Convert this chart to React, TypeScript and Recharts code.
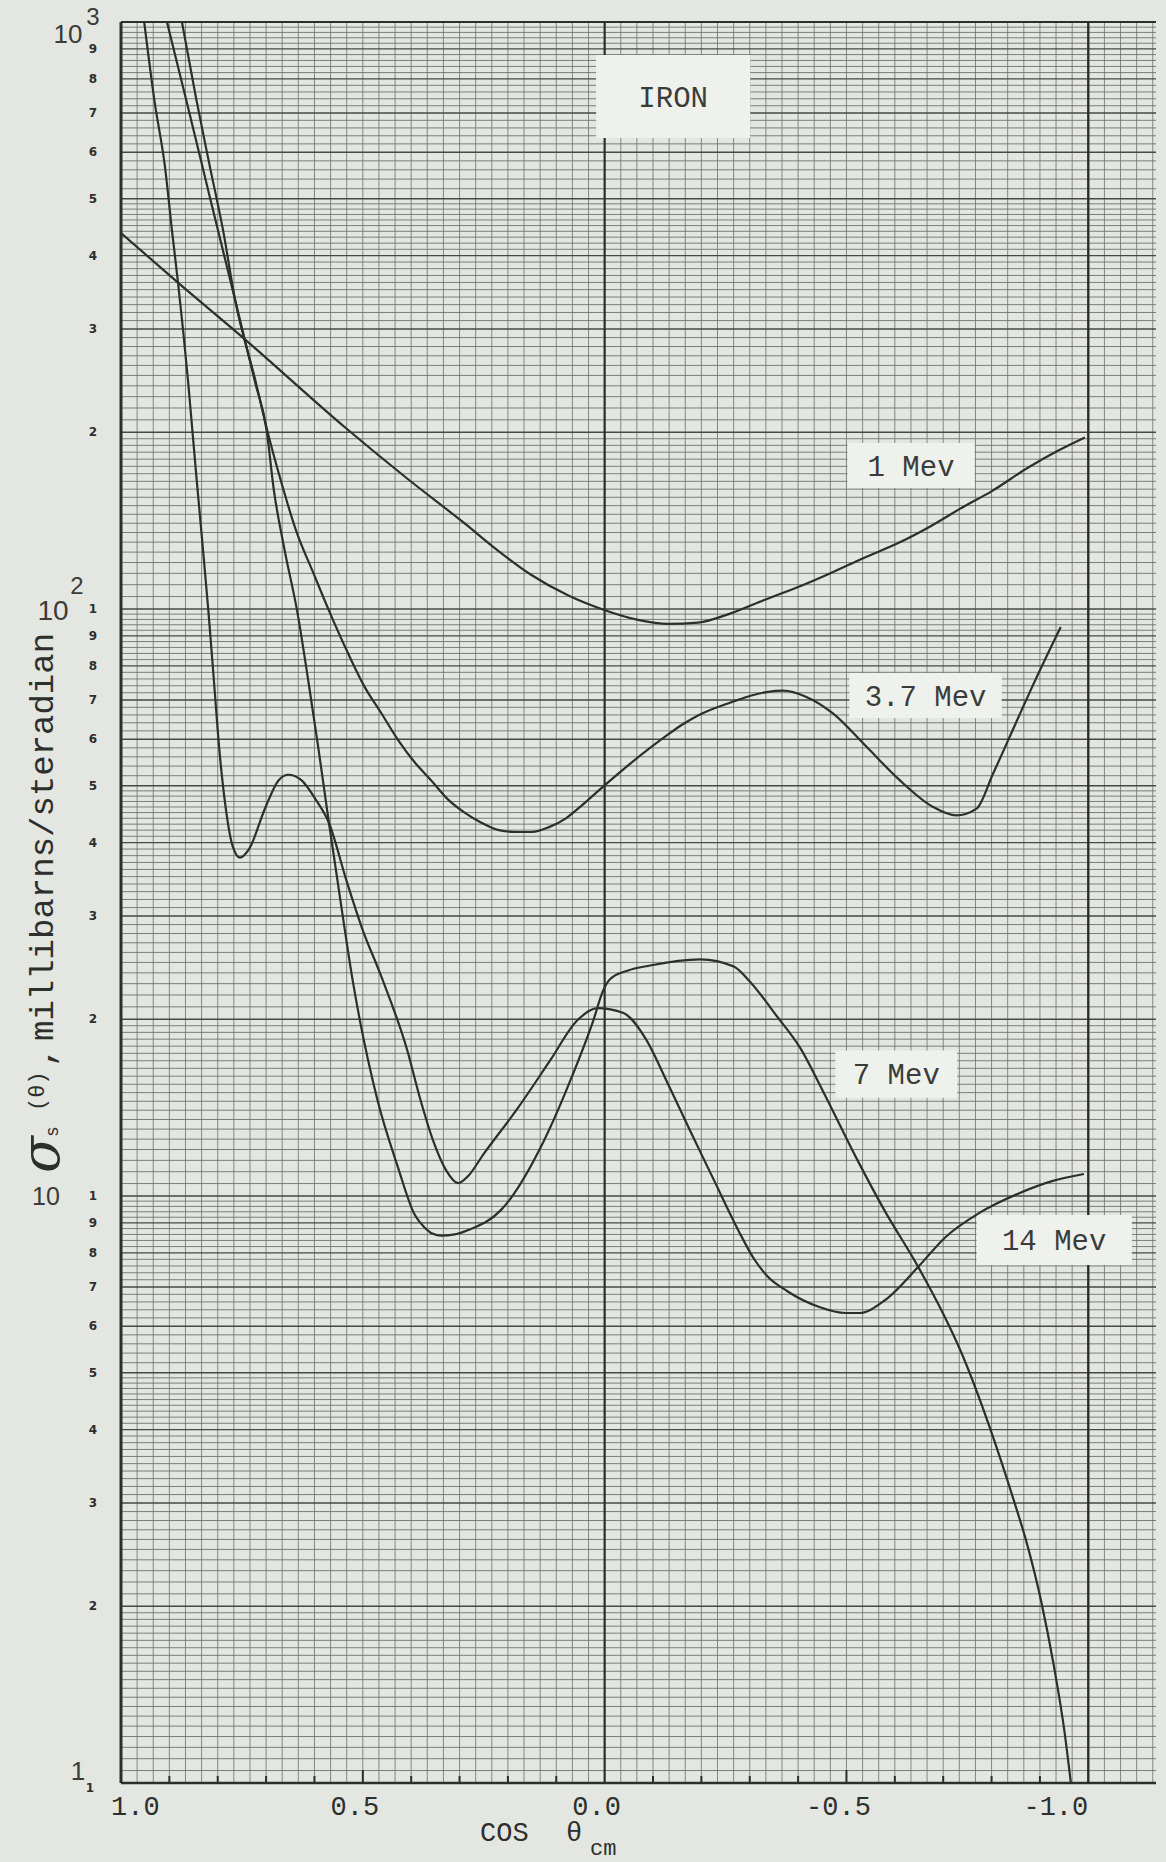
import React from 'react';
import { LineChart, Line, XAxis, YAxis, ReferenceLine, ReferenceArea, Label } from 'recharts';

// ---------------- data ----------------
const cos1Mev = [1.0, 0.881, 0.748, 0.534, 0.409, 0.29, 0.222, 0.153, 0.076, 0.001, -0.069, -0.131, -0.193, -0.262, -0.33, -0.4, -0.468, -0.536, -0.607, -0.675, -0.743, -0.799, -0.875, -0.937, -0.993];
const sigma1Mev = [437, 359, 290, 203, 167, 140, 126, 114.5, 105.5, 99.6, 95.8, 94.3, 94.8, 98.4, 103.6, 109, 115.2, 122.2, 129.5, 138.5, 149.5, 158.5, 174, 186, 196];

const cos3p7Mev = [0.874, 0.844, 0.816, 0.789, 0.764, 0.721, 0.698, 0.67, 0.638, 0.602, 0.568, 0.531, 0.496, 0.462, 0.427, 0.392, 0.359, 0.323, 0.288, 0.254, 0.219, 0.183, 0.15, 0.115, 0.08, 0.047, 0.012, -0.055, -0.125, -0.16, -0.195, -0.23, -0.265, -0.3, -0.335, -0.369, -0.416, -0.472, -0.541, -0.61, -0.679, -0.727, -0.769, -0.803, -0.853, -0.883, -0.943];
const sigma3p7Mev = [1000, 736, 566, 442, 336, 243, 202, 166, 136, 115, 98.5, 84.2, 73.6, 66.5, 59.8, 54.7, 51.1, 47.3, 44.9, 43.2, 42.0, 41.7, 41.7, 42.5, 44.0, 46.3, 49.1, 54.7, 60.6, 63.5, 66.0, 67.9, 69.5, 71.1, 72.2, 72.6, 70.9, 66.4, 58.3, 51.1, 46.0, 44.5, 45.7, 52.4, 64.7, 73.4, 93.2];

const cos7Mev = [0.905, 0.865, 0.815, 0.764, 0.7225, 0.699, 0.684, 0.663, 0.635, 0.613, 0.592, 0.57, 0.549, 0.521, 0.47, 0.4275, 0.393, 0.373, 0.355, 0.338, 0.31, 0.282, 0.214, 0.126, 0.07, 0.0235, 0.003, -0.011, -0.047, -0.094, -0.1975, -0.267, -0.3, -0.357, -0.404, -0.453, -0.523, -0.578, -0.648, -0.7, -0.735, -0.796, -0.846, -0.873, -0.902, -0.929, -0.951, -0.964];
const sigma7Mev = [1000, 736, 498, 336, 243, 202, 159.5, 127.5, 98.4, 75.7, 58, 43.2, 33, 23.3, 14.6, 11.2, 9.3, 8.85, 8.62, 8.56, 8.6, 8.75, 9.47, 12.4, 15.8, 19.9, 22.4, 23.4, 24.2, 24.7, 25.3, 24.6, 23.2, 20.2, 17.9, 15.0, 11.5, 9.47, 7.58, 6.3, 5.47, 4.04, 3.03, 2.56, 2.05, 1.58, 1.22, 1.0];

const cos14Mev = [0.952, 0.931, 0.909, 0.894, 0.882, 0.871, 0.861, 0.852, 0.8435, 0.831, 0.819, 0.808, 0.797, 0.782, 0.769, 0.754, 0.736, 0.701, 0.674, 0.654, 0.627, 0.597, 0.57, 0.534, 0.501, 0.463, 0.408, 0.381, 0.355, 0.328, 0.303, 0.283, 0.25, 0.18, 0.112, 0.057, 0.015, -0.039, -0.084, -0.131, -0.179, -0.227, -0.277, -0.309, -0.336, -0.377, -0.444, -0.498, -0.527, -0.58, -0.65, -0.704, -0.774, -0.856, -0.925, -0.991];
const sigma14Mev = [1000, 736, 566, 437, 359, 295, 242.7, 199.5, 166, 127.6, 98.5, 75.7, 58, 44.9, 39.4, 37.7, 38.9, 46.0, 51.1, 52.2, 51.1, 47.3, 43.2, 34.5, 28.5, 23.8, 17.7, 14.6, 12.45, 11.07, 10.52, 10.8, 11.8, 14.1, 17.05, 19.9, 20.9, 20.5, 18.58, 15.52, 12.8, 10.6, 8.72, 7.81, 7.31, 6.89, 6.47, 6.32, 6.32, 6.65, 7.6, 8.5, 9.35, 10.1, 10.6, 10.9];

const seriesNames = ['1 Mev', '3.7 Mev', '7 Mev', '14 Mev'];

const xTickValues = [1.0, 0.9, 0.8, 0.7, 0.6, 0.5, 0.4, 0.3, 0.2, 0.1, 0.0, -0.1, -0.2, -0.3, -0.4, -0.5, -0.6, -0.7, -0.8, -0.9, -1.0];
const xLabelValues = [1.0, 0.5, 0.0, -0.5, -1.0];
const xLabelTexts = ['1.0', '0.5', '0.0', '-0.5', '-1.0'];

const yTickValues = [1, 2, 3, 4, 5, 6, 7, 8, 9, 10, 20, 30, 40, 50, 60, 70, 80, 90, 100, 200, 300, 400, 500, 600, 700, 800, 900, 1000];
const yDecadeValues = [1, 10, 100, 1000];
const yDecadeTexts = ['1', '10', '10', '10'];
const yDecadeExponents = ['', '', '2', '3'];

const titleText = 'IRON';

// ---------------- layout / style ----------------
const W = 1166;
const H = 1862;
const MARGIN = { top: 22, right: 10, bottom: 0, left: 0 };
const Y_AXIS_W = 121;
const X_AXIS_H = 79;
const INK = '#2d2f2c';
const PAPER = '#e3e6e1';
const BOX = '#eff1ed';
const MONO = "'Liberation Mono', 'DejaVu Sans Mono', monospace";

const zip = (xs: number[], ys: number[]) => xs.map((x, i) => ({ x, y: ys[i] }));
const series = [
  zip(cos1Mev, sigma1Mev),
  zip(cos3p7Mev, sigma3p7Mev),
  zip(cos7Mev, sigma7Mev),
  zip(cos14Mev, sigma14Mev),
];

// label boxes (annotation placement, in data coordinates)
const boxes = [
  { text: titleText, x1: 0.0176, x2: -0.301, y1: 634.5, y2: 878.9 },
  { text: seriesNames[0], x1: -0.502, x2: -0.765, y1: 160.7, y2: 191.8 },
  { text: seriesNames[1], x1: -0.506, x2: -0.821, y1: 65.2, y2: 77.8 },
  { text: seriesNames[2], x1: -0.477, x2: -0.729, y1: 14.7, y2: 17.7 },
  { text: seriesNames[3], x1: -0.769, x2: -1.09, y1: 7.63, y2: 9.28 },
];

// graph-paper rulings
const gridV: number[] = [];
for (let k = 1; k <= 64; k++) {
  if (k === 30 || k === 60) continue;
  gridV.push(1 - k / 30);
}
const gridHMinor: number[] = [];
const gridHMajor: number[] = [];
for (const d of [1, 10, 100]) {
  const ms: number[] = [];
  for (let i = 0; i < 20; i++) ms.push(1 + i * 0.05);
  for (let i = 0; i < 30; i++) ms.push(2 + i * 0.1);
  for (let i = 0; i < 25; i++) ms.push(5 + i * 0.2);
  for (const m of ms) {
    const v = +(d * m).toFixed(6);
    if (Math.abs(m - Math.round(m)) < 1e-6) {
      if (v !== 1) gridHMajor.push(v);
    } else gridHMinor.push(v);
  }
}

function XTick(props: any) {
  const { x, y, payload } = props;
  const v = payload.value;
  const heavy = Math.abs(v) < 1e-6 || Math.abs(Math.abs(v) - 1) < 1e-6;
  const major = Math.abs(Math.abs(v) - 0.5) < 1e-6;
  const len = major ? 13 : 7;
  const idx = xLabelValues.findIndex((l) => Math.abs(l - v) < 1e-6);
  let anchor: any = 'middle';
  let dx = -8;
  if (idx === 0) { anchor = 'start'; dx = -10; }
  if (idx === xLabelValues.length - 1) { anchor = 'end'; dx = 0; }
  return (
    <g>
      {!heavy && <line x1={x} x2={x} y1={y} y2={y - len} stroke={INK} strokeWidth={2} />}
      {idx >= 0 && (
        <text x={x + dx} y={y + 32} textAnchor={anchor} fontFamily={MONO} fontSize={27} fill={INK}>
          {xLabelTexts[idx]}
        </text>
      )}
    </g>
  );
}

const decadePos: Record<number, { dx: number; dy: number; sdx: number; sdy: number; fs: number }> = {
  1: { dx: -43, dy: -12, sdx: 0, sdy: 0, fs: 26 },
  10: { dx: -75, dy: 0, sdx: 0, sdy: 0, fs: 25 },
  100: { dx: -68, dy: 1, sdx: -44, sdy: -24, fs: 28 },
  1000: { dx: -53, dy: 12, sdx: -28, sdy: -6, fs: 26 },
};

function YTick(props: any) {
  const { x, y, payload } = props;
  const v = payload.value;
  const exp = Math.floor(Math.log10(v) + 1e-9);
  const mant = Math.round(v / Math.pow(10, exp));
  const dIdx = yDecadeValues.indexOf(v);
  const p = decadePos[v];
  return (
    <g>
      {v !== 1000 && (
        <text x={x - 28 - (v === 1 ? 3 : 0)} y={y + (v === 1 ? 5 : 0)} textAnchor="middle" dominantBaseline="central"
          fontFamily="'DejaVu Sans', sans-serif" fontWeight="bold" fontSize={12} fill={INK}>
          {mant}
        </text>
      )}
      {dIdx >= 0 && p && (
        <g fill="#3a3c39" fontFamily="'Liberation Sans', 'DejaVu Sans', sans-serif">
          <text x={x + p.dx} y={y + p.dy} textAnchor="middle" dominantBaseline="central" fontSize={p.fs}>
            {yDecadeTexts[dIdx]}
          </text>
          {yDecadeExponents[dIdx] && (
            <text x={x + p.sdx} y={y + p.sdy} textAnchor="middle" dominantBaseline="central" fontSize={24}>
              {yDecadeExponents[dIdx]}
            </text>
          )}
        </g>
      )}
    </g>
  );
}

function YTitle() {
  return (
    <text transform="translate(53,1173) rotate(-90)" fill={INK} fontFamily={MONO}>
      <tspan x={0} y={6} fontFamily="'DejaVu Serif', serif" fontStyle="italic" fontSize={54}>σ</tspan>
      <tspan x={36} y={5} fontSize={18}>s</tspan>
      <tspan x={62} y={-9} fontSize={22}>(θ)</tspan>
      <tspan x={106} y={0} fontSize={34}>,</tspan>
      <tspan x={132} y={0} fontSize={34}>millibarns/steradian</tspan>
    </text>
  );
}

function XTitle() {
  return (
    <g fill={INK} fontFamily={MONO}>
      <text x={480} y={1841} fontSize={27}>COS</text>
      <text x={566} y={1841} fontSize={27}>θ</text>
      <text x={590} y={1855} fontSize={22}>cm</text>
    </g>
  );
}

export default function App() {
  return (
    <div style={{ position: 'absolute', left: 0, top: 0, width: W, height: H, background: PAPER }}>
      <LineChart width={W} height={H} margin={MARGIN}>
        <XAxis
          type="number"
          dataKey="x"
          domain={[-1.14, 1]}
          reversed
          allowDataOverflow
          ticks={xTickValues}
          interval={0}
          height={X_AXIS_H}
          tickSize={0}
          tickMargin={0}
          axisLine={false}
          tickLine={false}
          tick={(p: any) => <XTick {...p} />}
          label={<XTitle />}
        />
        <YAxis
          type="number"
          scale="log"
          domain={[1, 1000]}
          allowDataOverflow
          ticks={yTickValues}
          interval={0}
          width={Y_AXIS_W}
          tickSize={0}
          tickMargin={0}
          axisLine={false}
          tickLine={false}
          tick={(p: any) => <YTick {...p} />}
          label={<YTitle />}
        />

        {gridHMinor.map((v) => (
          <ReferenceLine key={'hm' + v} y={v} stroke="#6f736e" strokeWidth={0.9} zIndex={101} />
        ))}
        {gridV.map((c) => (
          <ReferenceLine key={'vm' + c} x={c} stroke="#6c706b" strokeWidth={0.8} zIndex={101} />
        ))}
        {gridHMajor.map((v) => (
          <ReferenceLine key={'hM' + v} y={v} stroke="#464945" strokeWidth={1.4} zIndex={102} />
        ))}
        <ReferenceLine x={0} stroke={INK} strokeWidth={2.2} zIndex={102} />
        <ReferenceLine x={-1} stroke={INK} strokeWidth={2.4} zIndex={102} />
        <ReferenceLine y={1000} stroke={INK} strokeWidth={1.8} zIndex={102} />

        {boxes.map((b) => (
          <ReferenceArea key={b.text} x1={b.x1} x2={b.x2} y1={b.y1} y2={b.y2} fill={BOX} fillOpacity={1} stroke="none" zIndex={103}>
            <Label value={b.text} position="center" fontFamily={MONO} fontSize={29} fill="#3a3c39" />
          </ReferenceArea>
        ))}

        <ReferenceLine x={1} stroke={INK} strokeWidth={3} zIndex={104} />
        <ReferenceLine y={1} stroke={INK} strokeWidth={2.6} zIndex={104} />

        {series.map((d, i) => (
          <Line
            key={seriesNames[i]}
            name={seriesNames[i]}
            data={d}
            dataKey="y"
            type="monotone"
            stroke={INK}
            strokeWidth={2.2}
            dot={false}
            activeDot={false}
            isAnimationActive={false}
          />
        ))}
      </LineChart>
    </div>
  );
}
